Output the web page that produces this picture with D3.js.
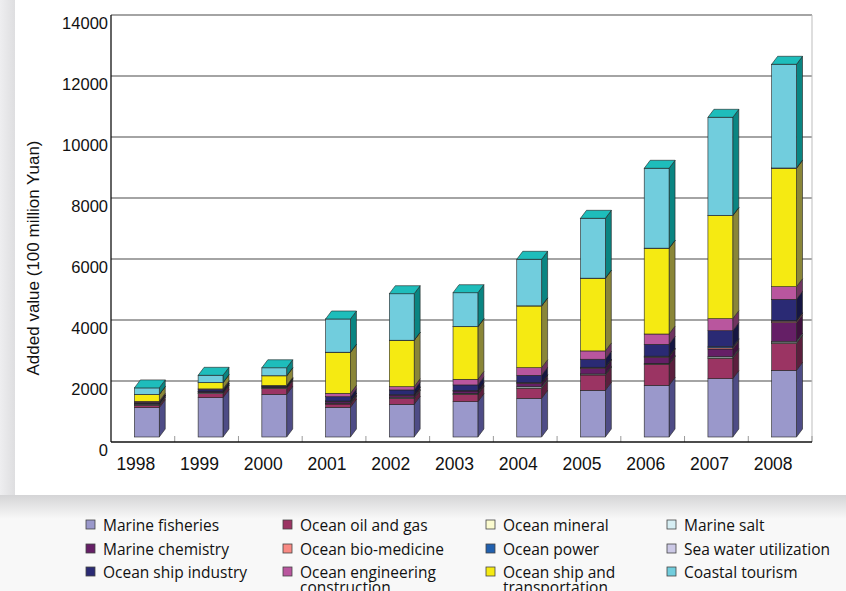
<!DOCTYPE html>
<html>
<head>
<meta charset="utf-8">
<script src="https://cdn.jsdelivr.net/npm/d3@7/dist/d3.min.js"></script>
<style>
  html, body { margin: 0; padding: 0; background: #f6f6f6; }
  svg { display: block; }
</style>
</head>
<body>
<svg id="chart" width="846" height="591"></svg>
<script>
// Added value of major marine industries, 100 million Yuan
const years = ["1998","1999","2000","2001","2002","2003","2004","2005","2006","2007","2008"];

const marineFisheries      = [961, 1289, 1400, 974, 1072, 1158, 1266, 1531, 1694, 1913, 2187];
const oceanOilGas          = [78, 131, 197, 108, 197, 242, 331, 502, 689, 667, 885];
const oceanMineral         = [5, 5, 5, 5, 5, 8, 13, 10, 10, 15, 20];
const marineSalt           = [30, 25, 20, 25, 30, 25, 40, 25, 23, 38, 46];
const marineChemistry      = [30, 30, 20, 60, 70, 75, 110, 186, 197, 252, 610];
const oceanBioMedicine     = [5, 5, 5, 5, 5, 5, 15, 20, 25, 40, 50];
const oceanPower           = [2, 2, 2, 4, 4, 4, 5, 13, 13, 36, 17];
const oceanShipIndustry    = [20, 60, 35, 140, 160, 190, 243, 263, 388, 524, 700];
const oceanEngineering     = [40, 30, 5, 112, 106, 185, 249, 272, 338, 394, 413];
const oceanShipTransport   = [220, 203, 317, 1344, 1521, 1724, 2023, 2381, 2810, 3377, 3882];
const seaWaterUtilization  = [2, 2, 2, 3, 3, 3, 5, 5, 5, 8, 10];
const coastalTourism       = [217, 241, 262, 1089, 1525, 1112, 1526, 1962, 2618, 3218, 3400];

const seriesNames = [
  "Marine fisheries", "Ocean oil and gas", "Ocean mineral", "Marine salt",
  "Marine chemistry", "Ocean bio-medicine", "Ocean power", "Ocean ship industry",
  "Ocean engineering construction", "Ocean ship and transportation",
  "Sea water utilization", "Coastal tourism"
];
const seriesValues = [
  marineFisheries, oceanOilGas, oceanMineral, marineSalt, marineChemistry,
  oceanBioMedicine, oceanPower, oceanShipIndustry, oceanEngineering,
  oceanShipTransport, seaWaterUtilization, coastalTourism
];

// legend grid: series per column, top to bottom
const legendColumns = [
  ["Marine fisheries", "Marine chemistry", "Ocean ship industry"],
  ["Ocean oil and gas", "Ocean bio-medicine", "Ocean engineering construction"],
  ["Ocean mineral", "Ocean power", "Ocean ship and transportation"],
  ["Marine salt", "Sea water utilization", "Coastal tourism"]
];

const yTicks = [0, 2000, 4000, 6000, 8000, 10000, 12000, 14000];

// face colours: front, right side
const frontColors = ["#9a98cb", "#9b3463", "#fbfbcf", "#d6eef3", "#651f66", "#f98a84",
                     "#2160ae", "#2a2a74", "#b9569e", "#f5ea12", "#ccc9e6", "#71cddd"];
const sideColors  = ["#4e4c86", "#5c1f3e", "#9a9a7a", "#7a9a9e", "#3e123e", "#9a4e4e",
                     "#123a6a", "#161642", "#6f3460", "#8a8638", "#7a7a8e", "#0a8582"];
const topColor = "#1ebdbb";

// table rows for d3.stack
const table = years.map((yr, i) => {
  const row = { year: yr };
  seriesNames.forEach((n, k) => { row[n] = seriesValues[k][i]; });
  return row;
});
const stacked = d3.stack().keys(seriesNames)(table);

const svg = d3.select("#chart");

// ---- page background, panel and shadows ----
const defs = svg.append("defs");
const gb = defs.append("linearGradient").attr("id", "shadowBottom")
  .attr("x1", 0).attr("y1", 0).attr("x2", 0).attr("y2", 1);
gb.append("stop").attr("offset", 0).attr("stop-color", "#d4d4d6");
gb.append("stop").attr("offset", 1).attr("stop-color", "#f8f8f8");
const gl = defs.append("linearGradient").attr("id", "shadowLeft")
  .attr("x1", 0).attr("y1", 0).attr("x2", 1).attr("y2", 0);
gl.append("stop").attr("offset", 0).attr("stop-color", "#eeeef0");
gl.append("stop").attr("offset", 1).attr("stop-color", "#dedee0");

svg.append("rect").attr("x", 0).attr("y", 0).attr("width", 846).attr("height", 591).attr("fill", "#f8f8f8");
svg.append("rect").attr("x", 0).attr("y", 0).attr("width", 15).attr("height", 500).attr("fill", "url(#shadowLeft)");
svg.append("rect").attr("x", 0).attr("y", 495).attr("width", 846).attr("height", 24).attr("fill", "url(#shadowBottom)");
svg.append("rect").attr("x", 15).attr("y", 0).attr("width", 831).attr("height", 495).attr("fill", "#ffffff");

// ---- scales ----
const plotLeft = 111, plotRight = 812, plotTop = 15, plotBottom = 442;
const x = d3.scaleBand().domain(years).range([plotLeft, plotRight]).padding(0);
const y = d3.scaleLinear().domain([0, 14000]).range([plotBottom, plotTop]);
// columns stand slightly forward of the back wall
const yBar = d3.scaleLinear().domain([0, 14000]).range([plotBottom - 5, plotTop - 5]);
const depthX = 6, depthY = -8;
const step = x.step();
const barLeft = yr => x(yr) + step * 0.367;
const barWidth = step * 0.39;

// ---- gridlines on the back wall ----
svg.append("g").selectAll("line").data(yTicks.filter(t => t > 0)).join("line")
  .attr("x1", plotLeft).attr("x2", plotRight)
  .attr("y1", d => y(d)).attr("y2", d => y(d))
  .attr("stroke", "#4a4a4a").attr("stroke-width", 1.2);

// right wall edge
svg.append("line").attr("x1", plotRight).attr("x2", plotRight)
  .attr("y1", plotTop).attr("y2", plotBottom)
  .attr("stroke", "#bdbdbd").attr("stroke-width", 1);

// category tick marks
svg.append("g").selectAll("line").data(years.slice(1).concat(["end"])).join("line")
  .attr("x1", d => d === "end" ? plotRight : x(d))
  .attr("x2", d => d === "end" ? plotRight : x(d))
  .attr("y1", plotBottom - 6).attr("y2", plotBottom)
  .attr("stroke", "#9a9a9a").attr("stroke-width", 1);

// ---- axis lines ----
svg.append("line").attr("x1", plotLeft).attr("x2", plotLeft)
  .attr("y1", plotTop).attr("y2", plotBottom).attr("stroke", "#111").attr("stroke-width", 1.3);
svg.append("line").attr("x1", plotLeft).attr("x2", plotRight)
  .attr("y1", plotBottom).attr("y2", plotBottom).attr("stroke", "#111").attr("stroke-width", 1.3);

// ---- 3D stacked columns ----
const barsG = svg.append("g");
years.forEach((yr, i) => {
  const x0 = barLeft(yr), x1 = x0 + barWidth;
  const g = barsG.append("g");
  stacked.forEach((layer, k) => {
    const seg = layer[i];
    const yTop = yBar(seg[1]), yBot = yBar(seg[0]);
    // right side face
    g.append("path")
      .attr("d", `M${x1},${yBot} L${x1},${yTop} L${x1 + depthX},${yTop + depthY} L${x1 + depthX},${yBot + depthY} Z`)
      .attr("fill", sideColors[k]).attr("stroke", "#222").attr("stroke-width", 0.6)
      .attr("stroke-linejoin", "round");
    // front face
    g.append("rect")
      .attr("x", x0).attr("y", yTop).attr("width", barWidth).attr("height", Math.max(0, yBot - yTop))
      .attr("fill", frontColors[k]).attr("stroke", "#222").attr("stroke-width", 0.6);
  });
  // top face of the column
  const total = stacked[stacked.length - 1][i][1];
  const yt = yBar(total);
  g.append("path")
    .attr("d", `M${x0},${yt} L${x0 + depthX},${yt + depthY} L${x1 + depthX},${yt + depthY} L${x1},${yt} Z`)
    .attr("fill", topColor).attr("stroke", "#222").attr("stroke-width", 0.6)
    .attr("stroke-linejoin", "round");
});

// ---- axis labels ----
svg.append("g").selectAll("text").data(yTicks).join("text")
  .attr("x", 108).attr("y", d => y(d) + 8)
  .attr("text-anchor", "end").attr("dominant-baseline", "central")
  .attr("font-family", "Liberation Sans, Arial, sans-serif").attr("font-size", 16.5)
  .attr("fill", "#111").text(d => d);

svg.append("g").selectAll("text").data(years).join("text")
  .attr("x", d => x(d) + step / 2 - 7).attr("y", 464)
  .attr("text-anchor", "middle").attr("dominant-baseline", "central")
  .attr("font-family", "Liberation Sans, Arial, sans-serif").attr("font-size", 17.5)
  .attr("fill", "#111").text(d => d);

svg.append("text")
  .attr("transform", "translate(33,258) rotate(-90)")
  .attr("text-anchor", "middle").attr("dominant-baseline", "central")
  .attr("font-family", "Liberation Sans, Arial, sans-serif").attr("font-size", 17)
  .attr("fill", "#111").text("Added value (100 million Yuan)");

// ---- legend: four columns, three rows ----
const legendColX = [86, 283, 486, 667];
const legendRowY = [525, 549, 572];
const legendG = svg.append("g");
legendColumns.forEach((colNames, c) => {
  colNames.forEach((name, r) => {
    const k = seriesNames.indexOf(name);
    const lx = legendColX[c], ly = legendRowY[r];
    legendG.append("rect")
      .attr("x", lx).attr("y", ly - 5).attr("width", 9).attr("height", 9)
      .attr("fill", frontColors[k]).attr("stroke", "#444").attr("stroke-width", 0.8);
    const t = legendG.append("text")
      .attr("x", lx + 17).attr("y", ly)
      .attr("dominant-baseline", "central")
      .attr("font-family", "Open Sans, Noto Sans, sans-serif").attr("font-size", 15.5)
      .attr("fill", "#111");
    const parts = name === "Ocean engineering construction" ? ["Ocean engineering", "construction"]
                : name === "Ocean ship and transportation" ? ["Ocean ship and", "transportation"]
                : [name];
    parts.forEach((p, j) => {
      t.append("tspan").attr("x", lx + 17).attr("dy", j === 0 ? 0 : 15).text(p);
    });
  });
});
</script>
</body>
</html>
